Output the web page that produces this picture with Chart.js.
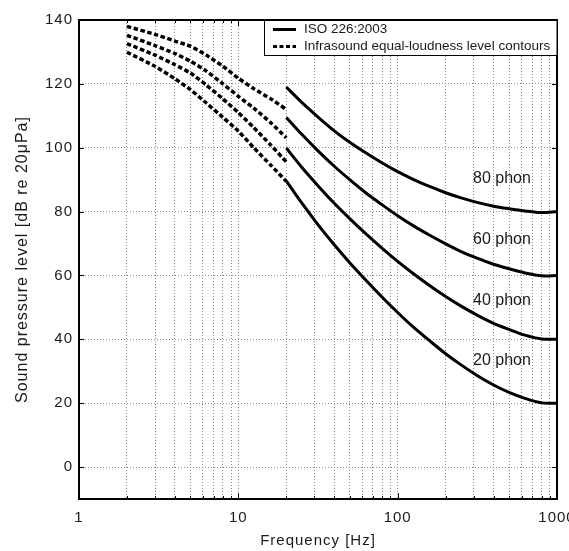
<!DOCTYPE html>
<html>
<head>
<meta charset="utf-8">
<script src="https://cdn.jsdelivr.net/npm/chart.js@4.4.0/dist/chart.umd.min.js"></script>
<style>
  html, body { margin: 0; padding: 0; background: #fff; overflow: hidden; }
  #wrap { width: 569px; height: 551px; overflow: hidden; }
</style>
</head>
<body>
<div id="wrap"><canvas id="chart" width="600" height="551"></canvas></div>
<script>
// ISO 226:2003 contours (20 Hz - 1 kHz)
const isoFreq = [20, 25, 31.5, 40, 50, 63, 80, 100, 125, 160, 200, 250, 315, 400, 500, 630, 800, 1000];
const iso20 = [89.6, 82.7, 76.0, 69.6, 64.0, 58.6, 53.2, 48.4, 43.9, 39.4, 35.5, 32.0, 28.7, 25.7, 23.4, 21.5, 20.1, 20.0];
const iso40 = [99.9, 93.9, 88.2, 82.6, 77.8, 73.1, 68.5, 64.4, 60.6, 56.7, 53.4, 50.4, 47.6, 45.0, 43.1, 41.3, 40.1, 40.0];
const iso60 = [109.5, 104.2, 99.1, 94.2, 90.0, 85.9, 82.1, 78.7, 75.6, 72.5, 69.9, 67.5, 65.4, 63.5, 62.1, 60.8, 59.9, 60.0];
const iso80 = [119.0, 114.2, 109.7, 105.3, 101.7, 98.4, 95.2, 92.5, 90.1, 87.8, 85.9, 84.3, 82.9, 81.7, 80.9, 80.2, 79.7, 80.0];

// Infrasound contours (2 - 20 Hz)
const infraFreq = [2, 3, 4, 5, 6.3, 8, 10, 12.5, 16, 20];
const infraA = [138.0, 135.5, 133.4, 131.8, 129.0, 125.5, 121.8, 118.5, 115.3, 112.0];
const infraB = [135.2, 132.0, 129.5, 127.1, 124.0, 120.0, 116.1, 112.4, 107.8, 103.1];
const infraC = [132.6, 129.0, 126.0, 123.4, 119.6, 115.3, 111.0, 106.3, 100.8, 95.6];
const infraD = [129.9, 125.5, 121.6, 118.2, 114.0, 109.5, 105.2, 100.0, 94.5, 89.5];

// Axis ticks
const xTickValues = [1, 2, 3, 4, 5, 6, 7, 8, 9, 10, 20, 30, 40, 50, 60, 70, 80, 90,
  100, 200, 300, 400, 500, 600, 700, 800, 900, 1000];
const xLabelValues = [1, 10, 100, 1000];
const yTickValues = [0, 20, 40, 60, 80, 100, 120, 140];

const phonNames = ["20 phon", "40 phon", "60 phon", "80 phon"];
const legendLabels = ["ISO 226:2003", "Infrasound equal-loudness level contours"];

const FONT = "'Liberation Sans', Arial, Helvetica, sans-serif";
const TEXT = "#1a1a1a";
Chart.defaults.font.family = FONT;
Chart.defaults.color = TEXT;

function pts(xs, ys) {
  return xs.map((x, i) => ({ x: x, y: ys[i] }));
}

function solid(ys) {
  return { data: pts(isoFreq, ys), borderColor: "#000", borderWidth: 3, pointRadius: 0, tension: 0.3, fill: false };
}
function dashed(ys) {
  return { data: pts(infraFreq, ys), borderColor: "#000", borderWidth: 3.5, borderDash: [4.5, 2.5],
    pointRadius: 0, tension: 0.2, fill: false };
}

// text spacing like the original axis labels
const spacingPlugin = {
  id: "spacing",
  beforeDraw(chart) {
    chart.ctx.letterSpacing = "1px";
  }
};

// "xx phon" labels next to the curves
const phonPlugin = {
  id: "phon",
  afterDatasetsDraw(chart) {
    const { ctx, scales: { x, y } } = chart;
    const levels = [33.2, 52.1, 71.1, 90.2];
    ctx.save();
    ctx.letterSpacing = "0px";
    ctx.font = "16px " + FONT;
    ctx.fillStyle = TEXT;
    ctx.textAlign = "left";
    ctx.textBaseline = "middle";
    phonNames.forEach((t, i) => {
      ctx.fillText(t, x.getPixelForValue(297), y.getPixelForValue(levels[i]));
    });
    ctx.restore();
  }
};

// box, inner tick marks and legend
const framePlugin = {
  id: "frame",
  afterDraw(chart) {
    const { ctx, chartArea: a, scales: { x, y } } = chart;
    ctx.save();
    ctx.strokeStyle = "#000";
    ctx.lineWidth = 1;
    ctx.beginPath();
    xTickValues.forEach(v => {
      const px = Math.round(x.getPixelForValue(v)) + 0.5;
      const len = xLabelValues.includes(v) ? 6 : 3;
      ctx.moveTo(px, a.bottom); ctx.lineTo(px, a.bottom - len);
      ctx.moveTo(px, a.top); ctx.lineTo(px, a.top + len);
    });
    yTickValues.forEach(v => {
      const py = Math.round(y.getPixelForValue(v)) + 0.5;
      ctx.moveTo(a.left, py); ctx.lineTo(a.left + 5, py);
      ctx.moveTo(a.right, py); ctx.lineTo(a.right - 5, py);
    });
    ctx.stroke();
    ctx.lineWidth = 2;
    ctx.strokeRect(a.left, a.top, a.right - a.left, a.bottom - a.top);

    // legend
    const lx = 264.5, ly = a.top, lw = a.right - lx, lh = 35;
    ctx.fillStyle = "#fff";
    ctx.fillRect(lx, ly, lw, lh);
    ctx.lineWidth = 1;
    ctx.strokeRect(lx, ly + 0.5, lw, lh);
    ctx.lineWidth = 3;
    ctx.beginPath();
    ctx.moveTo(273, ly + 9.5); ctx.lineTo(296, ly + 9.5);
    ctx.stroke();
    ctx.setLineDash([4, 2.5]);
    ctx.beginPath();
    ctx.moveTo(273, ly + 26.5); ctx.lineTo(296, ly + 26.5);
    ctx.stroke();
    ctx.setLineDash([]);
    ctx.letterSpacing = "0px";
    ctx.font = "13.5px " + FONT;
    ctx.fillStyle = TEXT;
    ctx.textAlign = "left";
    ctx.textBaseline = "middle";
    ctx.fillText(legendLabels[0], 304, ly + 9.5);
    ctx.fillText(legendLabels[1], 304, ly + 26.5);
    ctx.restore();
  }
};

new Chart(document.getElementById("chart"), {
  type: "line",
  data: {
    datasets: [
      solid(iso20), solid(iso40), solid(iso60), solid(iso80),
      dashed(infraA), dashed(infraB), dashed(infraC), dashed(infraD)
    ]
  },
  options: {
    responsive: false,
    animation: false,
    devicePixelRatio: 1,
    layout: { padding: { left: 0, top: 20, right: 43, bottom: 0 } },
    plugins: { legend: { display: false }, tooltip: { enabled: false } },
    scales: {
      x: {
        type: "logarithmic",
        min: 1,
        max: 1000,
        afterBuildTicks: s => { s.ticks = xTickValues.map(v => ({ value: v })); },
        afterFit: s => { s.height = 52; },
        ticks: {
          autoSkip: false,
          maxRotation: 0,
          padding: 10,
          font: { size: 15 },
          color: TEXT,
          callback: v => xLabelValues.includes(v) ? String(v) : ""
        },
        grid: {
          color: c => (c.tick && (c.tick.value === 1 || c.tick.value === 1000)) ? "rgba(0,0,0,0)" : "#8c8c8c",
          drawTicks: false
        },
        border: { display: false, dash: [1, 2] },
        title: { display: true, text: "Frequency [Hz]", font: { size: 15 }, color: TEXT, padding: { top: 0, bottom: 1 } }
      },
      y: {
        type: "linear",
        min: -10,
        max: 140,
        afterBuildTicks: s => { s.ticks = yTickValues.map(v => ({ value: v })); },
        afterFit: s => { s.width = 79; },
        ticks: { padding: 6, font: { size: 15 }, color: TEXT },
        grid: { color: "#8c8c8c", drawTicks: false },
        border: { display: false, dash: [1, 2] },
        title: { display: true, text: "Sound pressure level [dB re 20\u03BCPa]", font: { size: 16 }, color: TEXT,
          padding: { top: 13, bottom: 0 } }
      }
    }
  },
  plugins: [spacingPlugin, phonPlugin, framePlugin]
});
</script>
</body>
</html>
